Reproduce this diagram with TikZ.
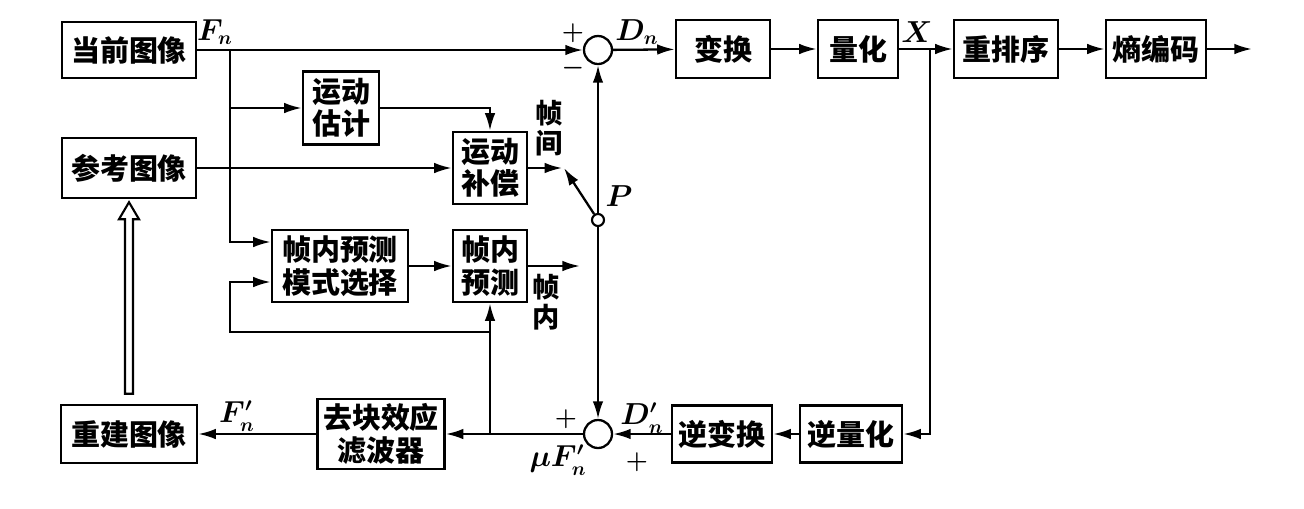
\documentclass[tikz,border=0pt]{standalone}
\usepackage{fontspec}
\newfontfamily\cjk{Noto Sans CJK SC}
\usetikzlibrary{arrows.meta,calc}

\tikzset{
  blk/.style={draw, line width=1.4pt, inner sep=0pt, align=center,
    font=\cjk\bfseries\fontsize{16.5}{18.5}\selectfont},
  sumc/.style={draw, circle, line width=1.3pt, minimum size=0.56cm, inner sep=0pt},
  lbl/.style={font=\fontsize{16}{18}\selectfont\boldmath, inner sep=0pt},
  sgn/.style={font=\fontsize{14}{16}\selectfont\boldmath, inner sep=0pt},
  txt/.style={font=\cjk\bfseries\fontsize{15.5}{17}\selectfont, align=center, inner sep=0pt},
  arr/.style={-{Latex[length=10pt,width=6pt]}, line width=1.3pt},
}

\begin{document}
\begin{tikzpicture}[x=0.02cm, y=-0.02cm, line width=1.3pt]
\useasboundingbox (0,0) rectangle (1304,508);

% ===== Top row: forward path =====
\node[blk, minimum width=2.68cm, minimum height=1.12cm] (cur) at (129,50) {当前图像};
\node[sumc] (sum1) at (598,50) {};
\node[blk, minimum width=1.88cm, minimum height=1.16cm] (tr) at (723,49) {变换};
\node[blk, minimum width=1.60cm, minimum height=1.16cm] (qu) at (858,49) {量化};
\node[blk, minimum width=2.08cm, minimum height=1.16cm] (rs) at (1006,49) {重排序};
\node[blk, minimum width=2.00cm, minimum height=1.16cm] (ec) at (1156,49) {熵编码};
\coordinate (out) at (1252,49);
\coordinate (fb) at (230,50);
\coordinate (xb) at (930,49);

\draw[arr] (cur) -- (sum1);
\draw[arr] (sum1) -- (tr);
\draw[arr] (tr) -- (qu);
\draw[arr] (qu) -- (rs);
\draw[arr] (rs) -- (ec);
\draw[arr] (ec) -- (out);

% ===== Prediction =====
\node[blk, minimum width=2.68cm, minimum height=1.20cm] (ref) at (129,168) {参考图像};
\node[blk, minimum width=1.52cm, minimum height=1.46cm] (me) at (341,108) {运动\\估计};
\node[blk, minimum width=1.48cm, minimum height=1.44cm] (mc) at (490,168) {运动\\补偿};
\node[blk, minimum width=2.72cm, minimum height=1.44cm] (ipm) at (340,266) {帧内预测\\模式选择};
\node[blk, minimum width=1.48cm, minimum height=1.44cm] (ip) at (490,266) {帧内\\预测};
\node[draw, circle, line width=1.2pt, minimum size=0.24cm, inner sep=0pt] (sw) at (598,220) {};
\coordinate (ct) at (564,168);
\coordinate (ci) at (580,266);

\draw[arr] (fb |- me.west) -- (me);
\draw[arr] (me.east) -| (mc.north);
\draw[arr] (ref) -- (mc);
\draw[arr, shorten >=1pt] (mc) -- (ct);
\draw[arr] (sw) -- (ct);
\draw[arr] (sw) -- (sum1);
\draw[arr] (fb) |- ($(ipm.west)+(0,-24)$);
\draw[arr] (ipm) -- (ip);
\draw[arr] (ip.east) -- (ci);

% ===== Bottom row: reconstruction =====
\node[blk, minimum width=2.72cm, minimum height=1.16cm] (rec) at (129,434) {重建图像};
\node[blk, minimum width=2.54cm, minimum height=1.40cm] (dbf) at (381,434) {去块效应\\滤波器};
\node[sumc] (sum2) at (598,434) {};
\node[blk, minimum width=2.00cm, minimum height=1.14cm] (it) at (722,434) {逆变换};
\node[blk, minimum width=2.04cm, minimum height=1.14cm] (iq) at (851,434) {逆量化};
\coordinate (fbk) at (ip.south |- sum2.west);
\coordinate (lp) at (230,332);

\draw[arr] (xb) |- (iq.east);
\draw[arr] (iq) -- (it);
\draw[arr] (it) -- (sum2);
\draw[arr] (sw) -- (sum2);
\draw[arr] (sum2) -- (dbf);
\draw[arr] (dbf) -- (rec);
\draw[arr] (fbk) -- (ip.south);
\draw[arr] (ip.south |- lp) -- (lp) |- ($(ipm.west)+(0,16)$);

% hollow arrow: reconstructed -> reference
\draw[line width=1.2pt, line join=miter]
  ($(rec.north)+(-4,-10)$) -- ($(ref.south)+(-4,20)$) -- ($(ref.south)+(-10,20)$)
  -- ($(ref.south)+(0,3)$) -- ($(ref.south)+(10,20)$) -- ($(ref.south)+(4,20)$)
  -- ($(rec.north)+(4,-10)$) -- cycle;

% ===== Labels =====
\node[lbl] (lfn) at (215,32) {$F_n$};
\node[lbl] (ldn) at (637,32) {$D_n$};
\node[lbl] (lx) at (917,32) {$X$};
\node[lbl] (lp1) at (619,196) {$P$};
\node[lbl] (ldd) at (642,418) {$D'_n$};
\node[lbl] (lmu) at (558,460) {$\mu F'_n$};
\node[lbl] (lff) at (237,416) {$F'_n$};
\node[sgn] (pl1) at (573,33) {$+$};
\node[sgn] (mi1) at (573,68) {$-$};
\node[sgn] (pl2) at (566,419) {$+$};
\node[sgn] (pl3) at (637,462) {$+$};
\node[txt] (tinter) at (549,128) {帧\\间};
\node[txt] (tintra) at (546,302) {帧\\内};

\end{tikzpicture}
\end{document}
